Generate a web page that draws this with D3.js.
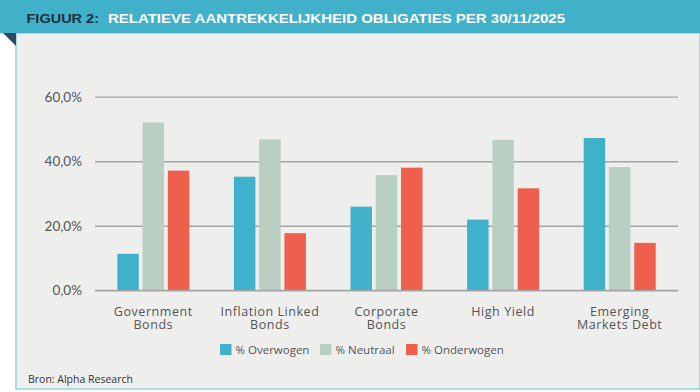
<!DOCTYPE html>
<html>
<head>
  <style>
  body {
    margin: 0;
    background: #fff;
  }
  .axis .domain {
    display: none;
  }
  .cat text {
    font-family: "Open Sans", sans-serif;
    font-size: 12.5px;
    letter-spacing: 0.55px;
    fill: #555;
  }
  </style>
</head>
<body>
  <div id="chart"></div>
  <script src="https://d3js.org/d3.v7.min.js"></script>
  <script>
  var categories = [["Government", "Bonds"], ["Inflation Linked", "Bonds"], ["Corporate", "Bonds"], ["High Yield"], ["Emerging", "Markets Debt"]];
  var series = ["% Overwogen", "% Neutraal", "% Onderwogen"];
  var overwogen = [11.3, 35.2, 25.9, 21.9, 47.2];
  var neutraal = [52.0, 46.8, 35.7, 46.6, 38.2];
  var onderwogen = [37.1, 17.7, 38.0, 31.6, 14.7];
  var yTicks = [0, 20, 40, 60];
  var colors = ["#3fb1ca", "#b9cfc1", "#ef5f4e"];

  var values = [overwogen, neutraal, onderwogen];
  var W = 700, H = 392;

  var svg = d3.select("#chart").append("svg")
      .attr("width", W)
      .attr("height", H);

  // panel
  svg.append("rect")
      .attr("x", 16).attr("y", 33)
      .attr("width", W - 16).attr("height", 356)
      .attr("fill", "#eeeeec")
      .attr("stroke", "#95d2de")
      .attr("stroke-width", 1.5);

  // header
  svg.append("rect")
      .attr("x", 0).attr("y", 0)
      .attr("width", W).attr("height", 33)
      .attr("fill", "#41b1ca");

  svg.append("path")
      .attr("d", "M3,33L16,33L16,46Z")
      .attr("fill", "#2d4a62");

  svg.append("text")
      .attr("x", 26.5).attr("y", 22.7)
      .attr("textLength", 72.5)
      .attr("lengthAdjust", "spacingAndGlyphs")
      .style("font-family", "'Liberation Sans', Arial, sans-serif")
      .style("font-weight", "bold")
      .style("font-size", "13px")
      .attr("fill", "#1d2e3d")
      .text("FIGUUR 2:");

  svg.append("text")
      .attr("x", 108).attr("y", 22.7)
      .attr("textLength", 457)
      .attr("lengthAdjust", "spacingAndGlyphs")
      .style("font-family", "'Liberation Sans', Arial, sans-serif")
      .style("font-weight", "bold")
      .style("font-size", "13px")
      .attr("fill", "#fff")
      .text("RELATIEVE AANTREKKELIJKHEID OBLIGATIES PER 30/11/2025");

  var margin = {left: 95, right: 22, top: 96.7, bottom: 101.7};

  var x = d3.scaleBand()
      .domain(d3.range(categories.length))
      .range([margin.left, W - margin.right]);

  var x1 = d3.scaleBand()
      .domain(d3.range(series.length))
      .range([0, 72])
      .paddingInner(0.15);

  var y = d3.scaleLinear()
      .domain([0, 60])
      .range([H - margin.bottom, margin.top]);

  var y_axis = d3.axisLeft(y)
      .tickValues(yTicks)
      .tickSize(-(W - margin.right - margin.left))
      .tickPadding(13)
      .tickFormat(function(d){ return d3.format(".1f")(d).replace(".", ",") + "%"; });

  var gy = svg.append("g")
      .attr("class", "y axis")
      .attr("transform", "translate(" + margin.left + ",0)")
      .call(y_axis);

  gy.selectAll(".tick line")
      .attr("stroke", "#a3a3a3")
      .attr("stroke-width", 1.3);

  gy.selectAll(".tick text")
      .style("font-family", "Lato, sans-serif")
      .style("font-size", "13.5px")
      .attr("fill", "#555");

  var groups = svg.selectAll(".grp")
      .data(categories)
    .enter().append("g")
      .attr("class", "grp")
      .attr("transform", function(d, i){ return "translate(" + (x(i) + x.bandwidth() / 2 - 36) + ",0)"; });

  groups.selectAll("rect")
      .data(function(d, i){ return values.map(function(v, s){ return {s: s, v: v[i]}; }); })
    .enter().append("rect")
      .attr("x", function(d){ return x1(d.s); })
      .attr("y", function(d){ return y(d.v); })
      .attr("width", x1.bandwidth())
      .attr("height", function(d){ return y(0) - y(d.v); })
      .attr("fill", function(d){ return colors[d.s]; });

  // gridline at zero stays on top
  svg.append("line")
      .attr("x1", margin.left).attr("x2", W - margin.right)
      .attr("y1", y(0)).attr("y2", y(0))
      .attr("stroke", "#a3a3a3")
      .attr("stroke-width", 1.3);

  var cat = svg.append("g").attr("class", "cat");
  categories.forEach(function(lines, i){
    var t = cat.append("text")
        .attr("x", x(i) + x.bandwidth() / 2)
        .attr("y", 315.7)
        .attr("text-anchor", "middle");
    lines.forEach(function(l, j){
      t.append("tspan")
          .attr("x", x(i) + x.bandwidth() / 2)
          .attr("dy", j == 0 ? 0 : 13.6)
          .text(l);
    });
  });

  // legend
  var legendX = [220, 320, 406];
  var legend = svg.append("g");
  series.forEach(function(s, i){
    legend.append("rect")
        .attr("x", legendX[i]).attr("y", 344)
        .attr("width", 11.5).attr("height", 11)
        .attr("fill", colors[i]);
    legend.append("text")
        .attr("x", legendX[i] + 15.5).attr("y", 353.5)
        .style("font-family", "'Open Sans', sans-serif")
        .style("font-size", "11.5px")
        .attr("fill", "#555")
        .text(s);
  });

  svg.append("text")
      .attr("x", 28).attr("y", 383.3)
      .style("font-family", "'Open Sans', sans-serif")
      .style("font-size", "10.5px")
      .attr("fill", "#333")
      .text("Bron: Alpha Research");
  </script>
</body>
</html>
